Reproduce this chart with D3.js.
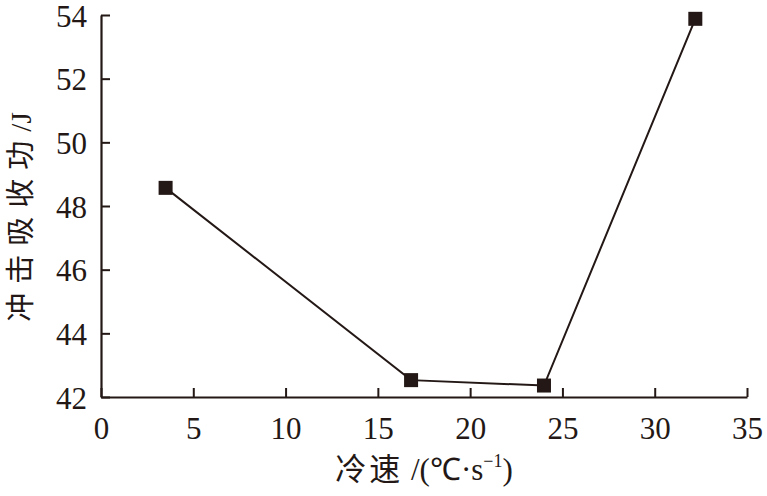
<!DOCTYPE html>
<html>
<head>
<meta charset="utf-8">
<script src="https://cdn.jsdelivr.net/npm/d3@7"></script>
<style>
  html, body { margin: 0; padding: 0; background: #fff; }
  svg { display: block; }
</style>
</head>
<body>
<svg width="767" height="496"></svg>
<script>
// cooling rate (°C/s) vs impact absorbed energy (J)
const coolingRate = [3.5, 16.8, 24.0, 32.2];
const impactEnergy = [48.57, 42.53, 42.36, 53.88];
const xTicks = [0, 5, 10, 15, 20, 25, 30, 35];
const yTicks = [42, 44, 46, 48, 50, 52, 54];

const svg = d3.select('svg');
const ink = '#231815';
const serif = "'Liberation Serif', 'Times New Roman', Times, serif";
const cjk = "'Noto Sans CJK SC', sans-serif";

const x = d3.scaleLinear().domain([0, 35]).range([101, 747]);
const y = d3.scaleLinear().domain([42, 54]).range([397, 15]);

// x axis, ticks pointing inward
const xAxis = svg.append('g')
        .attr('transform', `translate(0,${y(42)})`)
        .call(d3.axisBottom(x).tickValues(xTicks).tickSizeInner(-9).tickSizeOuter(0).tickPadding(20));
xAxis.attr('font-family', serif);
xAxis.select('.domain').attr('stroke', ink).attr('stroke-width', 2.2);
xAxis.selectAll('.tick line').attr('stroke', ink).attr('stroke-width', 2);
xAxis.selectAll('.tick text')
        .attr('font-family', serif)
        .attr('font-size', 31)
        .attr('fill', ink)
        .attr('dy', '0.71em');

// y axis
const yAxis = svg.append('g')
        .attr('transform', `translate(${x(0)},0)`)
        .call(d3.axisLeft(y).tickValues(yTicks).tickSizeInner(-9).tickSizeOuter(0).tickPadding(14));
yAxis.attr('font-family', serif);
yAxis.select('.domain').attr('stroke', ink).attr('stroke-width', 2.2);
yAxis.selectAll('.tick line').attr('stroke', ink).attr('stroke-width', 2);
yAxis.selectAll('.tick text')
        .attr('font-family', serif)
        .attr('font-size', 31)
        .attr('fill', ink)
        .attr('dy', '0.36em');

const pts = coolingRate.map((v, i) => ({ x: v, y: impactEnergy[i] }));

svg.append('path')
        .datum(pts)
        .attr('fill', 'none')
        .attr('stroke', ink)
        .attr('stroke-width', 2)
        .attr('d', d3.line().x(d => x(d.x)).y(d => y(d.y)));

const m = 14;
svg.append('g')
        .selectAll('rect')
        .data(pts)
        .enter().append('rect')
        .attr('x', d => x(d.x) - m / 2)
        .attr('y', d => y(d.y) - m / 2)
        .attr('width', m)
        .attr('height', m)
        .attr('fill', ink);

// axis titles
const xt = svg.append('text')
        .attr('x', 424)
        .attr('y', 480)
        .attr('text-anchor', 'middle')
        .attr('fill', ink)
        .attr('font-size', 31);
xt.append('tspan').attr('font-family', cjk).attr('letter-spacing', 3).text('冷速');
xt.append('tspan').attr('font-family', serif).text(' /(℃·s');
xt.append('tspan').attr('font-family', serif).attr('font-size', 18).attr('dy', -13).text('−1');
xt.append('tspan').attr('font-family', serif).attr('dy', 13).text(')');

const yt = svg.append('text')
        .attr('transform', 'translate(31,217) rotate(-90)')
        .attr('text-anchor', 'middle')
        .attr('fill', ink)
        .attr('font-size', 29);
yt.append('tspan').attr('font-family', cjk).attr('letter-spacing', 9).text('冲击吸收功');
yt.append('tspan').attr('font-family', serif).text('/J');
</script>
</body>
</html>
